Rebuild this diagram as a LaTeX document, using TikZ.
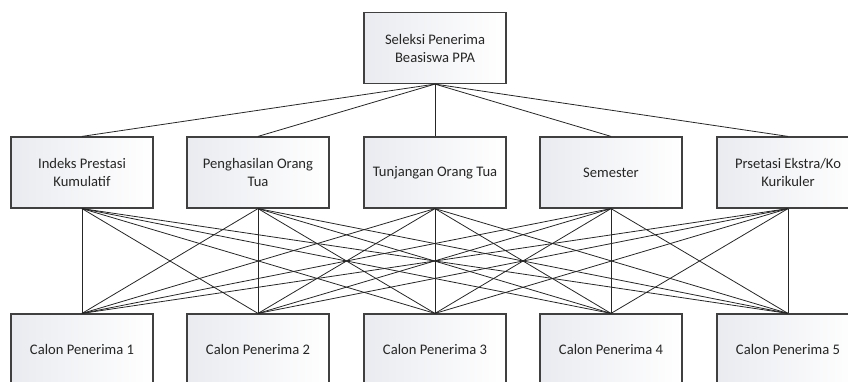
\documentclass[tikz,border=0pt]{standalone}
\usepackage{fontspec}
\setmainfont{Carlito}
\usepackage{tikz}
\usepackage{xcolor}

\definecolor{boxline}{HTML}{404040}
\definecolor{boxshade}{HTML}{E4E6EC}

\begin{document}
\begin{tikzpicture}[x=1pt,y=-1pt,
        box/.style={shape=rectangle,draw=boxline,line width=1.2pt,
            left color=boxshade!80,right color=white,
            minimum width=142pt,minimum height=71pt,
            align=center,font=\fontsize{14.6}{18}\selectfont,text=black!85},
        link/.style={-,draw=black!85,line width=0.8pt}]
        \useasboundingbox (0,0) rectangle (848,382);
        \clip (0,0) rectangle (848,382);

        \node[box] (goal) at (435,48) {Seleksi Penerima\\Beasiswa PPA};

        \node[box] (k1) at (82,172.5) {Indeks Prestasi\\Kumulatif};
        \node[box] (k2) at (258,172.5) {Penghasilan Orang\\Tua};
        \node[box] (k3) at (435,172.5) {Tunjangan Orang Tua};
        \node[box] (k4) at (611,172.5) {Semester};
        \node[box] (k5) at (788,172.5) {Prsetasi Ekstra/Ko\\Kurikuler};

        \node[box] (c1) at (82,349.5) {Calon Penerima 1};
        \node[box] (c2) at (258,349.5) {Calon Penerima 2};
        \node[box] (c3) at (435,349.5) {Calon Penerima 3};
        \node[box] (c4) at (611,349.5) {Calon Penerima 4};
        \node[box] (c5) at (788,349.5) {Calon Penerima 5};

        \path [link] (goal.south) edge (k1.north);
        \path [link] (goal.south) edge (k2.north);
        \path [link] (goal.south) edge (k3.north);
        \path [link] (goal.south) edge (k4.north);
        \path [link] (goal.south) edge (k5.north);

        \path [link] (k1.south) edge (c1.north);
        \path [link] (k1.south) edge (c2.north);
        \path [link] (k1.south) edge (c3.north);
        \path [link] (k1.south) edge (c4.north);
        \path [link] (k1.south) edge (c5.north);
        \path [link] (k2.south) edge (c1.north);
        \path [link] (k2.south) edge (c2.north);
        \path [link] (k2.south) edge (c3.north);
        \path [link] (k2.south) edge (c4.north);
        \path [link] (k2.south) edge (c5.north);
        \path [link] (k3.south) edge (c1.north);
        \path [link] (k3.south) edge (c2.north);
        \path [link] (k3.south) edge (c3.north);
        \path [link] (k3.south) edge (c4.north);
        \path [link] (k3.south) edge (c5.north);
        \path [link] (k4.south) edge (c1.north);
        \path [link] (k4.south) edge (c2.north);
        \path [link] (k4.south) edge (c3.north);
        \path [link] (k4.south) edge (c4.north);
        \path [link] (k4.south) edge (c5.north);
        \path [link] (k5.south) edge (c1.north);
        \path [link] (k5.south) edge (c2.north);
        \path [link] (k5.south) edge (c3.north);
        \path [link] (k5.south) edge (c4.north);
        \path [link] (k5.south) edge (c5.north);
    \end{tikzpicture}
\end{document}
